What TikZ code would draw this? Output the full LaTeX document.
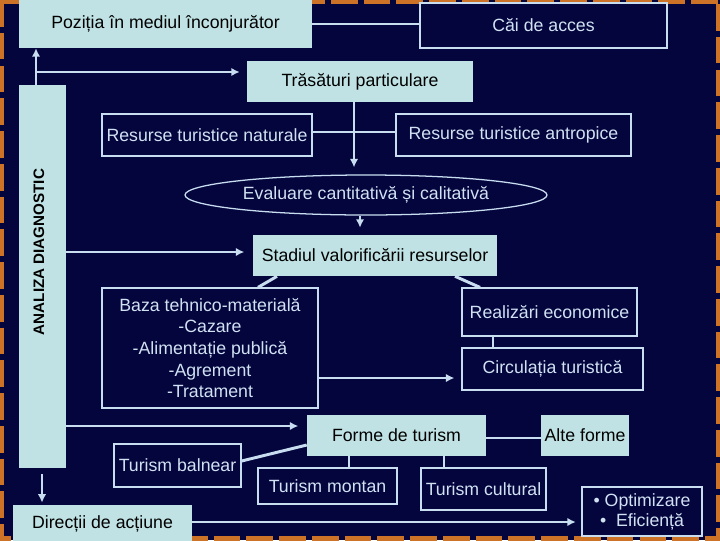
\documentclass[tikz,border=0pt]{standalone}
\usepackage{fontspec}
\setmainfont{Liberation Sans}
\usepackage{xcolor}
\usepackage{tikz}
\usetikzlibrary{shapes.geometric}
\usetikzlibrary{arrows.meta}

\definecolor{slidebg}{RGB}{5,5,62}
\definecolor{boxfill}{RGB}{192,226,228}
\definecolor{edge}{RGB}{200,222,240}
\definecolor{pale}{RGB}{208,226,242}
\definecolor{frameorange}{RGB}{205,115,40}

\tikzset{
  sz/.style 2 args={minimum width=#1*0.025cm, minimum height=#2*0.025cm},
  fillbox/.style={fill=boxfill, text=black, inner sep=0pt},
  linebox/.style={draw=edge, line width=0.9pt, fill=slidebg, text=pale, inner sep=0pt},
  conn/.style={draw=edge, line width=2.1pt},
  arr/.style={conn, -{Latex[length=6pt,width=6pt]}},
}

\begin{document}
\begin{tikzpicture}[x=0.025cm,y=-0.025cm,font=\fontsize{12.6}{15.4}\selectfont]
\fill[slidebg] (0,0) rectangle (720,540);
\clip (0,0) rectangle (720,540);
\draw[frameorange, line width=6pt, dash pattern=on 19pt off 4.3pt] (0,0) rectangle (720,540);

\node[fillbox, sz={293}{48}] (pozitia) at (165.5,24) {Poziția în mediul înconjurător};
\node[linebox, sz={247}{45}] (cai) at (543.5,25.5) {Căi de acces};
\node[fillbox, sz={226}{41}] (trasaturi) at (360,81.5) {Trăsături particulare};
\node[fillbox, sz={47}{383}] (analiza) at (42.5,276.5) {};
\node[rotate=90, font=\fontsize{10.8}{13}\selectfont\bfseries] (analizatext) at (39,252) {ANALIZA DIAGNOSTIC};
\node[linebox, sz={210}{42}] (naturale) at (207,135) {Resurse turistice naturale};
\node[linebox, sz={235}{42}] (antropice) at (513.5,135) {Resurse turistice antropice};
\node[linebox, ellipse, sz={362}{40}] (evaluare) at (366,195) {Evaluare cantitativă și calitativă};
\node[fillbox, sz={244}{41}] (stadiul) at (375,255.5) {Stadiul valorificării resurselor};
\node[linebox, sz={216}{120}, align=center] (baza) at (210,348)
  {Baza tehnico-materială\\-Cazare\\-Alimentație publică\\-Agrement\\-Tratament};
\node[linebox, sz={175}{48}] (realizari) at (549.5,312) {Realizări economice};
\node[linebox, sz={181}{42}] (circulatia) at (552.5,369) {Circulația turistică};
\node[fillbox, sz={179}{41}] (forme) at (396.5,435.5) {Forme de turism};
\node[fillbox, sz={88}{41}] (alte) at (585,435.5) {Alte forme};
\node[linebox, sz={127}{43}] (balnear) at (177.5,465.5) {Turism balnear};
\node[linebox, sz={139}{36}] (montan) at (327.5,486) {Turism montan};
\node[linebox, sz={125}{42}] (cultural) at (483.5,489) {Turism cultural};
\node[fillbox, sz={179}{38}] (directii) at (102.5,524) {Direcții de acțiune};
\node[linebox, sz={120}{49}, align=center, font=\fontsize{12.6}{14.2}\selectfont] (optim) at (642,511.5)
  {• Optimizare\\•\ \ Eficiență};

\coordinate (ramura) at (36,72);
\draw[conn] (pozitia.east) -- (cai.west |- pozitia.east);
\draw[arr] (analiza.north -| 36,0) -- (pozitia.south -| 36,0);
\draw[arr, shorten >=5pt] (ramura) -- (ramura -| trasaturi.west);
\draw[arr, shorten >=5pt] (trasaturi.south -| 354,0) -- (evaluare.north -| 354,0);
\draw[conn] (naturale.east |- 0,132) -- (antropice.west |- 0,132);
\draw[arr, shorten >=5pt] (evaluare.south -| 360,0) -- (stadiul.north -| 360,0);
\draw[arr, shorten >=6pt] (analiza.east |- 0,252) -- (stadiul.west |- 0,252);

\draw[conn] (stadiul.south -| 277,0) -- (baza.north -| 258,0);
\draw[conn] (stadiul.south -| 455,0) -- (realizari.north -| 480,0);
\draw[conn] (realizari.south -| 493,0) -- (circulatia.north -| 493,0);
\draw[arr, shorten >=5pt] (baza.east |- 0,378) -- (circulatia.west |- 0,378);

\draw[arr, shorten >=6pt] (analiza.east |- 0,426) -- (forme.west |- 0,426);
\draw[conn] (forme.east |- 0,438) -- (alte.west |- 0,438);
\draw[conn] (balnear.east |- 0,461) -- (forme.west |- 0,445);
\draw[conn] (forme.south -| 349,0) -- (montan.north -| 349,0);
\draw[conn] (forme.south -| 444,0) -- (cultural.north -| 444,0);

\draw[arr, shorten <=4pt, shorten >=1.5pt] (analiza.south -| 42,0) -- (directii.north -| 42,0);
\draw[arr, shorten >=4pt] (directii.east |- 0,522) -- (optim.west |- 0,522);
\end{tikzpicture}
\end{document}
